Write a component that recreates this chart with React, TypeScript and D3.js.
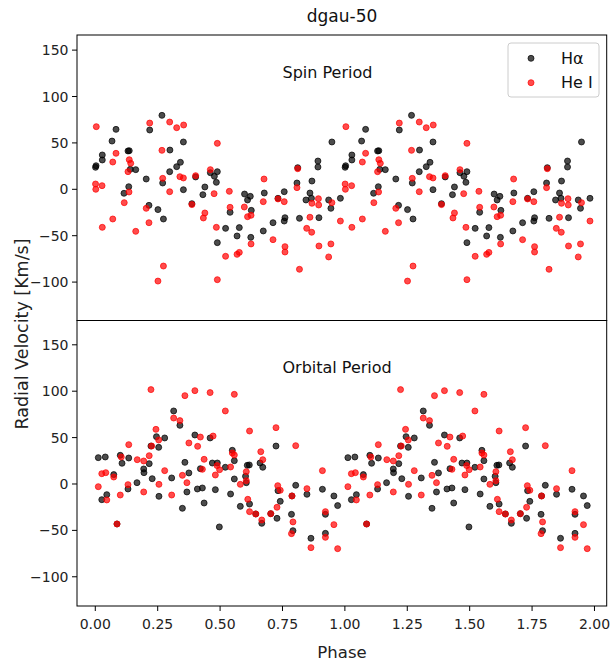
import React from "react";
import * as d3 from "d3";

// ---- data (phase 0..1, plotted again at phase+1) ----
const spinHaPhase = [0.001,0.003,0.028,0.028,0.067,0.083,0.131,0.136,0.140,0.162,0.115,0.134,0.204,0.215,0.218,0.251,0.267,0.270,0.273,0.298,0.299,0.326,0.341,0.353,0.353,0.387,0.402,0.431,0.439,0.461,0.477,0.485,0.489,0.489,0.522,0.540,0.568,0.577,0.598,0.610,0.621,0.623,0.625,0.673,0.677,0.712,0.732,0.757,0.760,0.757,0.808,0.811,0.818,0.844,0.860,0.866,0.868,0.892,0.892,0.896,0.935,0.944,0.948,0.982];
const spinHaRV = [23.7,25.4,31.6,37.0,52.0,64.6,41.3,41.6,21.5,21.2,-4.3,2.8,11.1,-17.3,63.9,-21.9,79.7,6.8,-32.0,19.0,42.3,24.4,29.1,51.0,-0.4,-15.5,13.3,-5.8,2.5,17.9,14.0,7.5,19.0,-57.5,-42.1,-24.8,-50.3,-41.3,-5.1,-11.5,-7.6,-51.8,-22.7,-44.9,-4.0,-36.0,-9.7,-2.6,-30.6,-34.2,6.8,23.3,-31.3,-11.5,-4.0,-9.7,8.9,30.5,24.0,-30.6,-11.5,-20.5,51.0,-9.7];

const spinHePhase = [0.004,0.001,0.002,0.027,0.028,0.070,0.070,0.083,0.116,0.131,0.136,0.142,0.135,0.162,0.204,0.215,0.218,0.251,0.267,0.273,0.270,0.298,0.298,0.326,0.339,0.354,0.353,0.387,0.402,0.433,0.439,0.461,0.476,0.485,0.489,0.489,0.522,0.537,0.540,0.568,0.577,0.597,0.610,0.624,0.624,0.676,0.673,0.712,0.732,0.757,0.760,0.760,0.808,0.811,0.818,0.847,0.860,0.867,0.868,0.894,0.895,0.896,0.935,0.944,0.948,0.982];
const spinHeRV = [67.5,5.7,0.0,3.9,-41.0,-32.0,29.4,38.8,-14.4,19.0,31.9,28.0,-2.9,-45.3,-20.5,-36.0,71.4,-98.9,42.0,-82.7,11.8,72.5,-2.6,66.4,13.6,69.3,12.2,-16.5,14.7,-30.9,-25.5,21.2,-4.7,-41.0,49.5,-97.4,-72.2,-2.2,-19.4,-70.1,-68.0,-19.1,-29.5,-28.0,-58.9,11.1,-13.3,-54.3,-10.4,-13.3,-61.8,-67.6,1.8,22.2,-86.2,-42.1,-30.1,-46.3,-15.1,-10.1,-16.9,-61.1,-72.9,-58.9,-14.4,-34.2];

const orbHaPhase = [0.012,0.040,0.026,0.046,0.074,0.087,0.100,0.134,0.107,0.131,0.167,0.194,0.195,0.216,0.228,0.223,0.245,0.254,0.278,0.255,0.306,0.314,0.339,0.349,0.359,0.367,0.375,0.399,0.409,0.429,0.421,0.436,0.460,0.469,0.489,0.481,0.497,0.521,0.542,0.549,0.557,0.557,0.581,0.602,0.605,0.609,0.617,0.618,0.643,0.667,0.660,0.671,0.703,0.724,0.728,0.732,0.741,0.786,0.792,0.788,0.803,0.848,0.864,0.910,0.922,0.922,0.956,0.971];
const orbHaRV = [28.4,29.1,-16.9,-11.5,10.1,-43.1,30.9,28.0,22.3,-5.4,1.4,16.2,12.2,21.9,5.7,40.9,51.0,39.5,49.6,-13.3,6.5,78.7,63.2,-26.2,23.3,-8.6,11.9,52.8,-5.4,-4.3,16.5,-20.5,49.6,22.6,22.6,-6.1,-46.3,18.0,-10.8,36.3,25.1,5.4,-24.1,8.3,1.4,20.1,20.5,-21.6,-32.3,-42.4,22.6,18.0,-32.0,40.9,-37.0,-7.2,-18.7,-32.7,-50.3,-12.9,-1.4,-11.1,-58.5,-5.7,-32.7,-53.2,-12.9,-23.3];

const orbHePhase = [0.012,0.026,0.042,0.046,0.074,0.087,0.100,0.104,0.134,0.131,0.168,0.194,0.194,0.216,0.223,0.226,0.243,0.254,0.255,0.278,0.306,0.314,0.339,0.349,0.359,0.367,0.375,0.399,0.410,0.421,0.429,0.436,0.460,0.472,0.481,0.488,0.498,0.521,0.542,0.549,0.557,0.557,0.581,0.605,0.605,0.611,0.618,0.618,0.643,0.663,0.671,0.667,0.703,0.724,0.728,0.731,0.741,0.788,0.792,0.786,0.803,0.848,0.864,0.910,0.922,0.922,0.956,0.971];
const orbHeRV = [-2.9,11.1,12.2,-17.2,7.5,-43.1,-11.9,29.1,42.4,-0.7,26.2,-8.6,24.8,30.5,101.7,40.9,58.9,47.4,-0.4,14.4,-11.9,71.1,68.3,9.3,95.2,1.4,44.2,100.6,40.6,50.6,15.8,26.6,98.5,51.7,9.7,19.8,15.4,78.7,18.3,33.4,31.2,96.6,-0.4,13.3,3.6,-16.5,-29.8,57.1,-32.3,34.8,26.2,-38.8,-32.0,60.7,-25.1,-1.8,-6.8,-12.9,-40.9,-53.5,41.3,-5.0,-68.6,14.4,-29.8,-57.5,-43.8,-69.7];

const xTicks = [0, 0.25, 0.5, 0.75, 1.0, 1.25, 1.5, 1.75, 2.0];
const yTicks = [-100, -50, 0, 50, 100, 150];
const seriesNames = ["H\u03b1", "He I"];
const panelTitles = ["Spin Period", "Orbital Period"];
const chartTitle = "dgau-50";

const FONT = "DejaVu Sans, sans-serif";
const L = 77, R = 606.7;
const TOP0 = 35, MID = 320.5, BOT = 606;

const x = d3.scaleLinear().domain([-0.0733, 2.049]).range([L, R]);
const yTop = d3.scaleLinear().domain([-141.4, 166.3]).range([MID, TOP0]);
const yBot = d3.scaleLinear().domain([-131.5, 176.2]).range([BOT, MID]);

const fmtTick = (v: number) => (v < 0 ? "\u2212" + Math.abs(v) : String(v));

function Points({ ph, rv, y, color }: { ph: number[]; rv: number[]; y: any; color: string }) {
  const pts: [number, number][] = [];
  ph.forEach((p, i) => {
    pts.push([p, rv[i]]);
  });
  ph.forEach((p, i) => {
    pts.push([p + 1, rv[i]]);
  });
  return (
    <g>
      {pts.map((d, i) => (
        <circle
          key={i}
          cx={x(d[0])}
          cy={y(d[1])}
          r={3.0}
          fill={color}
          fillOpacity={0.7}
          stroke={color}
          strokeOpacity={0.7}
          strokeWidth={1}
        />
      ))}
    </g>
  );
}

function YAxis({ y }: { y: any }) {
  return (
    <g>
      {yTicks.map((t) => (
        <g key={t}>
          <line x1={L - 5} x2={L} y1={y(t)} y2={y(t)} stroke="black" strokeWidth={1} />
          <text x={L - 8.5} y={y(t)} textAnchor="end" dominantBaseline="central" fontSize={14} fontFamily={FONT} fill="#222">
            {fmtTick(t)}
          </text>
        </g>
      ))}
    </g>
  );
}

export default function App() {
  return (
    <svg width={611} height={666} style={{ position: "absolute", left: 0, top: 0, background: "white" }} fontFamily={FONT}>
      <rect x={0} y={0} width={611} height={666} fill="white" />
      <text x={342} y={16} textAnchor="middle" dominantBaseline="central" fontSize={17} fill="#111">
        {chartTitle}
      </text>

      {/* top panel */}
      <Points ph={spinHaPhase} rv={spinHaRV} y={yTop} color="black" />
      <Points ph={spinHePhase} rv={spinHeRV} y={yTop} color="red" />
      <text x={x(0.75)} y={yTop(120)} fontSize={16} fill="#111">{panelTitles[0]}</text>
      <YAxis y={yTop} />

      {/* bottom panel */}
      <Points ph={orbHaPhase} rv={orbHaRV} y={yBot} color="black" />
      <Points ph={orbHePhase} rv={orbHeRV} y={yBot} color="red" />
      <text x={x(0.75)} y={yBot(120)} fontSize={16} fill="#111">{panelTitles[1]}</text>
      <YAxis y={yBot} />

      {/* frames */}
      <rect x={L} y={TOP0} width={R - L} height={MID - TOP0} fill="none" stroke="black" strokeWidth={1} />
      <rect x={L} y={MID} width={R - L} height={BOT - MID} fill="none" stroke="black" strokeWidth={1} />

      {/* x axis */}
      {xTicks.map((t) => (
        <g key={t}>
          <line x1={x(t)} x2={x(t)} y1={BOT} y2={BOT + 5} stroke="black" strokeWidth={1} />
          <text x={x(t)} y={624} textAnchor="middle" dominantBaseline="central" fontSize={14} fill="#222">
            {t.toFixed(2)}
          </text>
        </g>
      ))}
      <text x={342} y={652} textAnchor="middle" dominantBaseline="central" fontSize={16.5} fill="#222">
        Phase
      </text>
      <text
        transform={`translate(22,334) rotate(-90)`}
        textAnchor="middle"
        dominantBaseline="central"
        fontSize={17.5}
        fill="#222"
      >
        Radial Velocity [Km/s]
      </text>

      {/* legend */}
      <rect x={508} y={43} width={91} height={54} rx={3} fill="white" fillOpacity={0.8} stroke="#cccccc" strokeWidth={1} />
      {seriesNames.map((n, i) => (
        <g key={n}>
          <circle cx={531} cy={58.3 + i * 24.4} r={3} fill={i === 0 ? "black" : "red"} fillOpacity={0.7} stroke={i === 0 ? "black" : "red"} strokeOpacity={0.7} />
          <text x={561} y={58.3 + i * 24.4} dominantBaseline="central" fontSize={16} fill="#111">
            {n}
          </text>
        </g>
      ))}
    </svg>
  );
}
